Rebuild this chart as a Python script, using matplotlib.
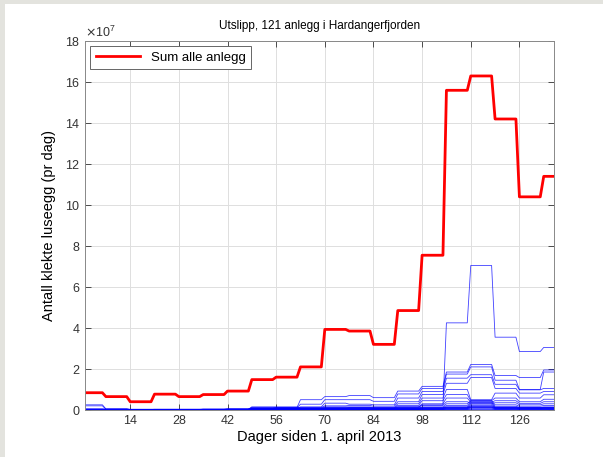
import numpy as np
import matplotlib.pyplot as plt
from matplotlib.patches import Rectangle
from matplotlib.ticker import ScalarFormatter

plt.rcParams['font.family'] = ['Liberation Sans', 'DejaVu Sans']

SKALA = 1e7
# uker i perioden: forste og siste uke er ufullstendige
uke_lengde = [6] + [7] * 18 + [4]

# sum av alle anlegg, ukeverdier (x 10^7 egg pr dag)
sum_alle = [0.84, 0.65, 0.40, 0.77, 0.65, 0.75, 0.92, 1.48, 1.60, 2.10,
            3.93, 3.85, 3.20, 4.85, 7.55, 15.6, 16.3, 14.2, 10.4, 11.4]

# enkeltanlegg, ukeverdier (x 10^7 egg pr dag)
anlegg_01 = [0.02, 0.02, 0.02, 0.02, 0.02, 0.02, 0.03, 0.05, 0.06, 0.08,
             0.10, 0.10, 0.10, 0.15, 0.25, 4.25, 7.05, 3.55, 2.85, 3.05]
anlegg_02 = [0.02, 0.02, 0.02, 0.03, 0.03, 0.04, 0.05, 0.10, 0.12, 0.50,
             0.65, 0.70, 0.60, 0.92, 1.15, 1.85, 2.22, 1.68, 1.58, 1.95]
anlegg_03 = [0.01, 0.01, 0.01, 0.02, 0.02, 0.03, 0.04, 0.08, 0.10, 0.28,
             0.50, 0.50, 0.42, 0.78, 1.05, 1.75, 2.10, 1.45, 1.00, 1.85]
anlegg_04 = [0.25, 0.05, 0.02, 0.02, 0.02, 0.02, 0.03, 0.05, 0.08, 0.15,
             0.33, 0.28, 0.25, 0.58, 0.90, 1.55, 1.72, 1.25, 0.98, 1.05]
anlegg_05 = [0.20, 0.04, 0.02, 0.02, 0.02, 0.02, 0.02, 0.04, 0.06, 0.12,
             0.20, 0.22, 0.18, 0.40, 0.75, 1.30, 1.58, 1.05, 0.82, 0.90]
anlegg_06 = [0.03, 0.03, 0.02, 0.02, 0.02, 0.03, 0.03, 0.05, 0.06, 0.10,
             0.15, 0.15, 0.12, 0.30, 0.58, 1.00, 0.50, 0.82, 0.58, 0.74]
anlegg_07 = [0.02, 0.02, 0.01, 0.02, 0.02, 0.02, 0.03, 0.15, 0.15, 0.08,
             0.12, 0.12, 0.10, 0.22, 0.45, 0.75, 0.45, 0.58, 0.40, 0.52]
anlegg_08 = [0.02, 0.02, 0.01, 0.01, 0.02, 0.02, 0.02, 0.12, 0.12, 0.06,
             0.08, 0.10, 0.08, 0.15, 0.30, 0.58, 0.38, 0.45, 0.32, 0.40]
anlegg_09 = [0.01, 0.01, 0.01, 0.01, 0.01, 0.02, 0.02, 0.04, 0.05, 0.05,
             0.06, 0.08, 0.06, 0.12, 0.22, 0.40, 0.32, 0.35, 0.25, 0.30]
anlegg_10 = [0.01, 0.01, 0.01, 0.01, 0.01, 0.01, 0.02, 0.03, 0.04, 0.04,
             0.05, 0.05, 0.05, 0.08, 0.15, 0.30, 0.45, 0.25, 0.18, 0.22]
anlegg_11 = [0.01, 0.01, 0.01, 0.01, 0.01, 0.01, 0.01, 0.03, 0.03, 0.03,
             0.04, 0.04, 0.04, 0.06, 0.10, 0.22, 0.40, 0.18, 0.12, 0.15]
anlegg_12 = [0.01, 0.01, 0.01, 0.01, 0.01, 0.01, 0.01, 0.02, 0.02, 0.02,
             0.03, 0.03, 0.03, 0.05, 0.08, 0.15, 0.35, 0.12, 0.10, 0.12]
anlegg_13 = [0.01, 0.01, 0.00, 0.01, 0.01, 0.01, 0.01, 0.02, 0.02, 0.02,
             0.02, 0.02, 0.02, 0.04, 0.06, 0.10, 0.28, 0.10, 0.08, 0.09]
anlegg_14 = [0.00, 0.00, 0.00, 0.00, 0.00, 0.01, 0.01, 0.01, 0.01, 0.01,
             0.02, 0.02, 0.02, 0.03, 0.04, 0.08, 0.22, 0.08, 0.06, 0.07]
anlegg_15 = [0.00, 0.00, 0.00, 0.00, 0.00, 0.00, 0.01, 0.01, 0.01, 0.01,
             0.01, 0.01, 0.01, 0.02, 0.03, 0.06, 0.15, 0.06, 0.05, 0.05]
anlegg_16 = [0.00, 0.00, 0.00, 0.00, 0.00, 0.00, 0.00, 0.01, 0.01, 0.01,
             0.01, 0.01, 0.01, 0.01, 0.02, 0.04, 0.10, 0.04, 0.03, 0.03]
anlegg_17 = [0.00, 0.00, 0.00, 0.00, 0.00, 0.00, 0.00, 0.00, 0.00, 0.00,
             0.00, 0.01, 0.01, 0.01, 0.01, 0.02, 0.05, 0.02, 0.02, 0.02]
anlegg_18 = [0.00, 0.00, 0.00, 0.00, 0.00, 0.00, 0.00, 0.00, 0.00, 0.00,
             0.00, 0.00, 0.00, 0.00, 0.00, 0.01, 0.02, 0.01, 0.01, 0.01]
anlegg_19 = [0.05, 0.04, 0.03, 0.03, 0.03, 0.03, 0.04, 0.06, 0.07, 0.08,
             0.09, 0.10, 0.09, 0.11, 0.12, 0.14, 0.16, 0.14, 0.12, 0.12]
anlegg_20 = [0.04, 0.03, 0.03, 0.03, 0.03, 0.03, 0.03, 0.05, 0.05, 0.06,
             0.07, 0.07, 0.07, 0.08, 0.10, 0.12, 0.13, 0.11, 0.10, 0.10]
anlegg_21 = [0.03, 0.02, 0.02, 0.02, 0.02, 0.02, 0.02, 0.03, 0.04, 0.04,
             0.05, 0.05, 0.05, 0.06, 0.07, 0.09, 0.10, 0.08, 0.07, 0.08]

alle_anlegg = [anlegg_01, anlegg_02, anlegg_03, anlegg_04, anlegg_05, anlegg_06,
               anlegg_07, anlegg_08, anlegg_09, anlegg_10, anlegg_11, anlegg_12,
               anlegg_13, anlegg_14, anlegg_15, anlegg_16, anlegg_17, anlegg_18,
               anlegg_19, anlegg_20, anlegg_21]

dager = np.arange(1, sum(uke_lengde) + 1)


def daglig(ukeverdier):
    return np.repeat(np.array(ukeverdier) * SKALA, uke_lengde)


fig = plt.figure(figsize=(6.03, 4.57), dpi=100)
fig.patch.set_facecolor('#e3e3de')
fig.add_artist(Rectangle((5 / 603, 0), 1, 1 - 4 / 457, transform=fig.transFigure,
                         facecolor='white', edgecolor='none', zorder=0))

ax = fig.add_axes([0.141, 0.103, 0.778, 0.807])

for a in alle_anlegg:
    ax.plot(dager, daglig(a), color='blue', lw=0.6, alpha=0.75)
ax.plot(dager, daglig(sum_alle), color='red', lw=2.0, label='Sum alle anlegg')

ax.set_xlim(1, dager[-1])
ax.set_ylim(0, 18e7)
ax.set_xticks(np.arange(14, 127, 14))
ax.set_yticks(np.arange(0, 18.1e7, 2e7))

fmt = ScalarFormatter(useMathText=True)
fmt.set_powerlimits((7, 7))
ax.yaxis.set_major_formatter(fmt)
ax.yaxis.get_offset_text().set_fontsize(9)
ax.yaxis.get_offset_text().set_color('#333333')

ax.grid(True, color='#dedede', lw=0.7)
ax.set_axisbelow(True)
ax.tick_params(direction='in', top=True, right=True, labelsize=9,
               colors='#333333', length=4, width=0.6)
for s in ax.spines.values():
    s.set_color('#888888')
    s.set_linewidth(0.7)

ax.set_title('Utslipp, 121 anlegg i Hardangerfjorden', fontsize=8.5, pad=9)
ax.set_xlabel('Dager siden 1. april 2013', fontsize=10.5, labelpad=2)
ax.set_ylabel('Antall klekte luseegg (pr dag)', fontsize=10.5, labelpad=6)

leg = ax.legend(loc='upper left', fontsize=9.5, fancybox=False, framealpha=1,
                handlelength=3.4, borderaxespad=0.4)
leg.get_frame().set_edgecolor('#666666')
leg.get_frame().set_linewidth(0.7)

fig.savefig('out.png', dpi=100)
